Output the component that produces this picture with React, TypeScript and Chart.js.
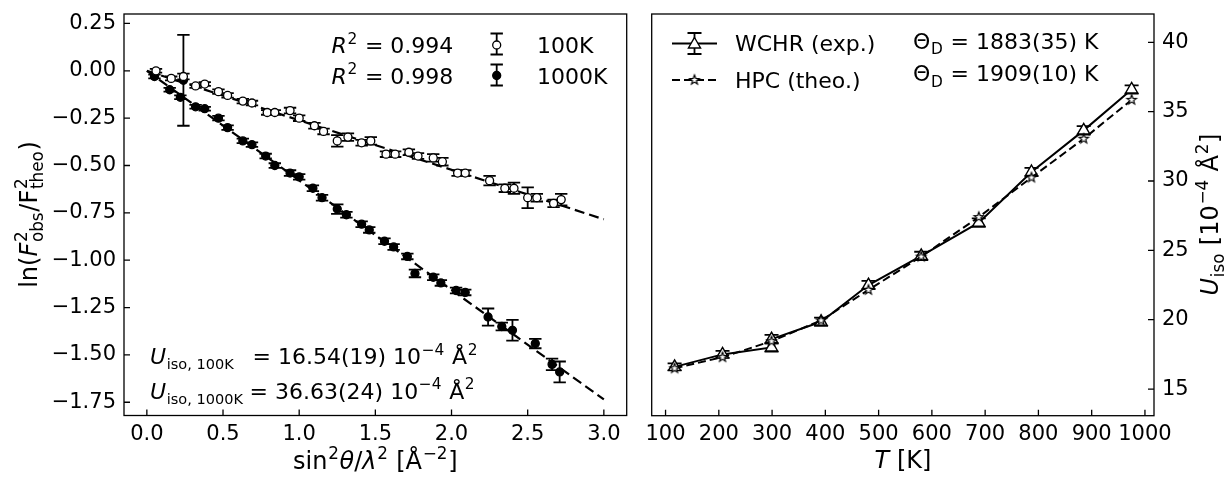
import React, { useEffect, useRef } from 'react';
import { Chart, registerables } from 'chart.js';
Chart.register(...registerables);

const FF = "'DejaVu Sans', 'Liberation Sans', sans-serif";
const FS_T = 21; // tick labels
const FS = 22; // annotations / legend
const FS_L = 24; // axis titles

// ---------- Left panel data ----------
const s100 = [0.06, 0.16, 0.24, 0.32, 0.38, 0.47, 0.53, 0.63, 0.69, 0.79, 0.84, 0.94, 1.00, 1.10, 1.16, 1.25, 1.32, 1.41, 1.47, 1.57, 1.63, 1.72, 1.78, 1.88, 1.94, 2.04, 2.09, 2.25, 2.35, 2.41, 2.50, 2.56, 2.67, 2.72];
const ln100 = [0.00, -0.04, -0.03, -0.08, -0.07, -0.11, -0.13, -0.16, -0.17, -0.22, -0.22, -0.21, -0.25, -0.29, -0.32, -0.37, -0.35, -0.38, -0.37, -0.44, -0.44, -0.43, -0.45, -0.46, -0.48, -0.54, -0.54, -0.58, -0.62, -0.62, -0.67, -0.67, -0.70, -0.68];
const err100 = [0.01, 0.01, 0.015, 0.01, 0.01, 0.012, 0.012, 0.012, 0.012, 0.012, 0.012, 0.015, 0.015, 0.015, 0.015, 0.03, 0.02, 0.015, 0.02, 0.015, 0.015, 0.015, 0.015, 0.02, 0.02, 0.015, 0.015, 0.025, 0.02, 0.03, 0.055, 0.02, 0.02, 0.03];

const s1000 = [0.05, 0.15, 0.22, 0.24, 0.32, 0.38, 0.47, 0.53, 0.63, 0.69, 0.78, 0.84, 0.94, 1.00, 1.09, 1.15, 1.25, 1.31, 1.41, 1.46, 1.56, 1.62, 1.71, 1.76, 1.88, 1.93, 2.03, 2.09, 2.24, 2.33, 2.40, 2.55, 2.66, 2.71];
const ln1000 = [-0.03, -0.10, -0.14, -0.05, -0.19, -0.20, -0.25, -0.30, -0.37, -0.39, -0.45, -0.50, -0.54, -0.56, -0.62, -0.67, -0.73, -0.76, -0.81, -0.84, -0.90, -0.93, -0.98, -1.07, -1.09, -1.12, -1.16, -1.17, -1.30, -1.35, -1.37, -1.44, -1.55, -1.59];
const err1000 = [0.01, 0.01, 0.01, 0.24, 0.01, 0.01, 0.012, 0.012, 0.012, 0.012, 0.012, 0.012, 0.015, 0.015, 0.015, 0.015, 0.025, 0.015, 0.015, 0.015, 0.015, 0.015, 0.015, 0.02, 0.015, 0.015, 0.015, 0.015, 0.045, 0.02, 0.055, 0.025, 0.03, 0.055];

const fitS = [0.0, 3.0];
const fit100 = [0.0, -0.784];
const fit1000 = [0.0, -1.735];

const leftXTicks = [0.0, 0.5, 1.0, 1.5, 2.0, 2.5, 3.0];
const leftYTicks = [0.25, 0.0, -0.25, -0.5, -0.75, -1.0, -1.25, -1.5, -1.75];

// ---------- Right panel data ----------
const tWCHR = [117, 207, 299, 299, 392, 481, 580, 688, 787, 885, 975];
const uWCHR = [16.6, 17.5, 18.0, 18.6, 19.85, 22.5, 24.6, 27.0, 30.65, 33.65, 36.6];
const eWCHR = [0.25, 0.25, 0.3, 0.3, 0.3, 0.3, 0.3, 0.3, 0.3, 0.3, 0.3];
const tHPC = [117, 207, 299, 392, 481, 580, 688, 787, 885, 975];
const uHPC = [16.5, 17.3, 18.45, 19.95, 22.15, 24.55, 27.4, 30.25, 33.05, 35.85];

const rightXTicks = [100, 200, 300, 400, 500, 600, 700, 800, 900, 1000];
const rightYTicks = [15, 20, 25, 30, 35, 40];

// ---------- rich text helpers ----------
type Seg = { t?: string; it?: boolean; sup?: string; sub?: string; sc?: number };

function fontOf(size: number, it?: boolean) {
  return `${it ? 'italic ' : ''}${size}px ${FF}`;
}

function richWidth(ctx: CanvasRenderingContext2D, segs: Seg[], size: number) {
  let w = 0;
  for (const s of segs) {
    if (s.t !== undefined) {
      ctx.font = fontOf(size, s.it);
      w += ctx.measureText(s.t).width;
    } else {
      ctx.font = fontOf(size * (s.sc || 0.7));
      const a = s.sup ? ctx.measureText(s.sup).width : 0;
      const b = s.sub ? ctx.measureText(s.sub).width : 0;
      w += Math.max(a, b) + size * 0.06;
    }
  }
  return w;
}

function drawRich(ctx: CanvasRenderingContext2D, segs: Seg[], x: number, y: number, size: number, align: 'left' | 'center' | 'right' = 'left') {
  const w = richWidth(ctx, segs, size);
  let cx = align === 'left' ? x : align === 'center' ? x - w / 2 : x - w;
  ctx.save();
  ctx.fillStyle = '#000';
  ctx.textBaseline = 'alphabetic';
  ctx.textAlign = 'left';
  for (const s of segs) {
    if (s.t !== undefined) {
      ctx.font = fontOf(size, s.it);
      ctx.fillText(s.t, cx, y);
      cx += ctx.measureText(s.t).width;
    } else {
      ctx.font = fontOf(size * (s.sc || 0.7));
      let a = 0, b = 0;
      if (s.sup) { ctx.fillText(s.sup, cx + size * 0.03, y - size * 0.42); a = ctx.measureText(s.sup).width; }
      if (s.sub) { ctx.fillText(s.sub, cx + size * 0.03, y + size * 0.24); b = ctx.measureText(s.sub).width; }
      cx += Math.max(a, b) + size * 0.06;
    }
  }
  ctx.restore();
  return (align === 'left' ? x : align === 'center' ? x - w / 2 : x - w) + w;
}

const fmtMinus = (v: number, d: number) => (v < 0 ? '\u2212' : '') + Math.abs(v).toFixed(d);

// ---------- plugins ----------
const errorBarPlugin = {
  id: 'errbars',
  beforeDatasetsDraw(chart: any) {
    const ctx = chart.ctx;
    chart.data.datasets.forEach((ds: any) => {
      if (!ds.errorBars) return;
      const xs = chart.scales.x, ys = chart.scales.y;
      ctx.save();
      ctx.strokeStyle = '#000';
      ctx.lineWidth = ds.errLineWidth || 1.8;
      ds.data.forEach((p: any, j: number) => {
        const e = ds.errorBars[j];
        const x = xs.getPixelForValue(p.x);
        const y1 = ys.getPixelForValue(p.y + e);
        const y2 = ys.getPixelForValue(p.y - e);
        const cw = ds.capHalf || 6;
        ctx.beginPath();
        ctx.moveTo(x, y1); ctx.lineTo(x, y2);
        ctx.moveTo(x - cw, y1); ctx.lineTo(x + cw, y1);
        ctx.moveTo(x - cw, y2); ctx.lineTo(x + cw, y2);
        ctx.stroke();
      });
      ctx.restore();
    });
  },
};

function frameAndTicks(chart: any, yOnRight: boolean) {
  const ctx = chart.ctx;
  const a = chart.chartArea;
  ctx.save();
  ctx.strokeStyle = '#000';
  ctx.lineWidth = 1.3;
  ctx.strokeRect(a.left, a.top, a.right - a.left, a.bottom - a.top);
  const TL = 6;
  ctx.beginPath();
  chart.scales.x.ticks.forEach((t: any) => {
    const px = chart.scales.x.getPixelForValue(t.value);
    ctx.moveTo(px, a.bottom); ctx.lineTo(px, a.bottom - TL);
  });
  chart.scales.y.ticks.forEach((t: any) => {
    const py = chart.scales.y.getPixelForValue(t.value);
    if (yOnRight) { ctx.moveTo(a.right, py); ctx.lineTo(a.right - TL, py); }
    else { ctx.moveTo(a.left, py); ctx.lineTo(a.left + TL, py); }
  });
  ctx.stroke();
  ctx.restore();
}

function errGlyph(ctx: CanvasRenderingContext2D, x: number, y: number, half: number, cap: number) {
  ctx.beginPath();
  ctx.moveTo(x, y - half); ctx.lineTo(x, y + half);
  ctx.moveTo(x - cap, y - half); ctx.lineTo(x + cap, y - half);
  ctx.moveTo(x - cap, y + half); ctx.lineTo(x + cap, y + half);
  ctx.stroke();
}

const leftDecor = {
  id: 'leftDecor',
  afterDraw(chart: any) {
    const ctx = chart.ctx;
    frameAndTicks(chart, false);
    // R^2 texts
    drawRich(ctx, [{ t: 'R', it: true }, { sup: '2' }, { t: ' = 0.994' }], 331.5, 53, FS);
    drawRich(ctx, [{ t: 'R', it: true }, { sup: '2' }, { t: ' = 0.998' }], 331.5, 83.7, FS);
    // legend
    ctx.save();
    ctx.strokeStyle = '#000';
    ctx.lineWidth = 1.8;
    errGlyph(ctx, 496.7, 44, 10.5, 6.2);
    ctx.beginPath(); ctx.arc(496.7, 45, 4, 0, Math.PI * 2); ctx.fillStyle = '#fff'; ctx.fill(); ctx.lineWidth = 1.3; ctx.stroke();
    ctx.lineWidth = 1.8;
    errGlyph(ctx, 496.7, 75, 10.5, 6.2);
    ctx.beginPath(); ctx.arc(496.7, 75.5, 4, 0, Math.PI * 2); ctx.fillStyle = '#000'; ctx.fill(); ctx.lineWidth = 1.3; ctx.stroke();
    ctx.restore();
    drawRich(ctx, [{ t: '100K' }], 537, 53, FS);
    drawRich(ctx, [{ t: '1000K' }], 537, 83.7, FS);
    // U_iso texts
    const e1 = drawRich(ctx, [{ t: 'U', it: true }, { sub: 'iso, 100K', sc: 0.66 }], 150, 364, FS);
    drawRich(ctx, [{ t: '= 16.54(19) 10' }, { sup: '\u22124' }, { t: ' \u00c5' }, { sup: '2' }], Math.max(252.5, e1 + 6), 364, FS);
    const e2 = drawRich(ctx, [{ t: 'U', it: true }, { sub: 'iso, 1000K', sc: 0.66 }], 150, 398.7, FS);
    drawRich(ctx, [{ t: '= 36.63(24) 10' }, { sup: '\u22124' }, { t: ' \u00c5' }, { sup: '2' }], Math.max(248.5, e2 + 6), 398.7, FS);
    // axis titles
    drawRich(ctx, [{ t: 'sin' }, { sup: '2' }, { t: '\u03b8', it: true }, { t: '/' }, { t: '\u03bb', it: true }, { sup: '2' }, { t: ' [\u00c5' }, { sup: '\u22122' }, { t: ']' }], 375.3, 469, FS_L, 'center');
    ctx.save();
    ctx.translate(37, 214.5);
    ctx.rotate(-Math.PI / 2);
    drawRich(ctx, [{ t: 'ln(' }, { t: 'F', it: true }, { sup: '2', sub: 'obs' }, { t: '/F' }, { sup: '2', sub: 'theo' }, { t: ')' }], 0, 0, FS_L, 'center');
    ctx.restore();
  },
};

function makeStar(r: number) {
  const size = Math.ceil(r * 2 + 4);
  const c = document.createElement('canvas');
  c.width = size; c.height = size;
  const g = c.getContext('2d')!;
  const cx = size / 2, cy = size / 2;
  g.beginPath();
  for (let i = 0; i < 10; i++) {
    const rad = i % 2 === 0 ? r : r * 0.42;
    const ang = -Math.PI / 2 + (i * Math.PI) / 5;
    const px = cx + rad * Math.cos(ang), py = cy + rad * Math.sin(ang);
    if (i === 0) g.moveTo(px, py); else g.lineTo(px, py);
  }
  g.closePath();
  g.fillStyle = '#fff'; g.fill();
  g.lineWidth = 1.2; g.strokeStyle = '#000'; g.stroke();
  return c;
}

function drawTriangle(ctx: CanvasRenderingContext2D, x: number, y: number, r: number) {
  ctx.beginPath();
  for (let i = 0; i < 3; i++) {
    const ang = -Math.PI / 2 + (i * 2 * Math.PI) / 3;
    const px = x + r * Math.cos(ang), py = y + r * Math.sin(ang);
    if (i === 0) ctx.moveTo(px, py); else ctx.lineTo(px, py);
  }
  ctx.closePath();
  ctx.fillStyle = '#fff'; ctx.fill();
  ctx.stroke();
}

const rightDecor = {
  id: 'rightDecor',
  afterDraw(chart: any) {
    const ctx = chart.ctx;
    const ox = 640;
    frameAndTicks(chart, true);
    // legend
    ctx.save();
    ctx.strokeStyle = '#000';
    ctx.lineWidth = 2;
    ctx.beginPath(); ctx.moveTo(672 - ox, 43.5); ctx.lineTo(717 - ox, 43.5); ctx.stroke();
    ctx.lineWidth = 1.8;
    errGlyph(ctx, 694.5 - ox, 43.5, 10.5, 7);
    ctx.lineWidth = 1.4;
    drawTriangle(ctx, 694.5 - ox, 44.5, 7);
    ctx.lineWidth = 2;
    ctx.setLineDash([8, 4]);
    ctx.beginPath(); ctx.moveTo(672 - ox, 80); ctx.lineTo(717 - ox, 80); ctx.stroke();
    ctx.setLineDash([]);
    const st = makeStar(5);
    ctx.drawImage(st, 694.5 - ox - st.width / 2, 80 - st.height / 2);
    ctx.restore();
    drawRich(ctx, [{ t: 'WCHR (exp.)' }], 735 - ox, 51, FS);
    drawRich(ctx, [{ t: 'HPC (theo.)' }], 735 - ox, 87.5, FS);
    drawRich(ctx, [{ t: '\u0398' }, { sub: 'D' }, { t: ' = 1883(35) K' }], 913 - ox, 48.7, FS);
    drawRich(ctx, [{ t: '\u0398' }, { sub: 'D' }, { t: ' = 1909(10) K' }], 913 - ox, 81.3, FS);
    drawRich(ctx, [{ t: 'T', it: true }, { t: ' [K]' }], 903 - ox, 468, FS_L, 'center');
    ctx.save();
    ctx.translate(1218 - ox, 214.5);
    ctx.rotate(-Math.PI / 2);
    drawRich(ctx, [{ t: 'U', it: true }, { sub: 'iso' }, { t: ' [10' }, { sup: '\u22124' }, { t: ' \u00c5' }, { sup: '2' }, { t: ']' }], 0, 0, FS_L, 'center');
    ctx.restore();
  },
};

const tickFont = { family: FF, size: FS_T };

export default function App() {
  const lRef = useRef<HTMLCanvasElement>(null);
  const rRef = useRef<HTMLCanvasElement>(null);

  useEffect(() => {
    const left = new Chart(lRef.current!, {
      type: 'scatter',
      data: {
        datasets: [
          { type: 'line', data: fitS.map((x, i) => ({ x, y: fit100[i] })), borderColor: '#000', borderDash: [10, 5], borderWidth: 2.2, pointRadius: 0, order: 3, fill: false } as any,
          { type: 'line', data: fitS.map((x, i) => ({ x, y: fit1000[i] })), borderColor: '#000', borderDash: [10, 5], borderWidth: 2.2, pointRadius: 0, order: 3, fill: false } as any,
          { label: '100K', data: s100.map((x, i) => ({ x, y: ln100[i] })), pointRadius: 4, pointBackgroundColor: '#fff', pointBorderColor: '#000', pointBorderWidth: 1.3, order: 1, errorBars: err100, capHalf: 6.2 } as any,
          { label: '1000K', data: s1000.map((x, i) => ({ x, y: ln1000[i] })), pointRadius: 4, pointBackgroundColor: '#000', pointBorderColor: '#000', pointBorderWidth: 1.3, order: 2, errorBars: err1000, capHalf: 6.2 } as any,
        ],
      },
      options: {
        responsive: false,
        animation: false,
        events: [],
        layout: { padding: { left: 0, top: 14, right: 13.3, bottom: 0 } },
        plugins: { legend: { display: false }, tooltip: { enabled: false } },
        scales: {
          x: {
            type: 'linear', min: -0.15, max: 3.15,
            grid: { display: false, drawTicks: false }, border: { display: false },
            afterBuildTicks: (s: any) => { s.ticks = leftXTicks.map((v) => ({ value: v })); },
            afterFit: (s: any) => { s.height = 61.5; s.paddingLeft = 0; s.paddingRight = 0; },
            ticks: { font: tickFont, color: '#000', padding: 6, maxRotation: 0, autoSkip: false, callback: (v: any) => fmtMinus(Number(v), 1) },
          },
          y: {
            type: 'linear', min: -1.82, max: 0.30,
            grid: { display: false, drawTicks: false }, border: { display: false },
            afterBuildTicks: (s: any) => { s.ticks = leftYTicks.map((v) => ({ value: v })); },
            afterFit: (s: any) => { s.width = 124; s.paddingTop = 0; s.paddingBottom = 0; },
            ticks: { font: tickFont, color: '#000', padding: 8, autoSkip: false, callback: (v: any) => fmtMinus(Number(v), 2) },
          },
        },
      } as any,
      plugins: [errorBarPlugin, leftDecor],
    });

    const right = new Chart(rRef.current!, {
      type: 'line',
      data: {
        datasets: [
          { label: 'WCHR (exp.)', data: tWCHR.map((x, i) => ({ x, y: uWCHR[i] })), borderColor: '#000', borderWidth: 2, pointStyle: 'triangle', pointRadius: 7, pointBackgroundColor: '#fff', pointBorderColor: '#000', pointBorderWidth: 1.4, order: 2, errorBars: eWCHR, capHalf: 7, tension: 0 } as any,
          { label: 'HPC (theo.)', data: tHPC.map((x, i) => ({ x, y: uHPC[i] })), borderColor: '#000', borderWidth: 2, borderDash: [8, 4], pointStyle: makeStar(5), pointRadius: 5, order: 1, tension: 0 } as any,
        ],
      },
      options: {
        responsive: false,
        animation: false,
        events: [],
        layout: { padding: { left: 11.7, top: 14, right: 0, bottom: 0 } },
        plugins: { legend: { display: false }, tooltip: { enabled: false } },
        scales: {
          x: {
            type: 'linear', min: 74, max: 1017,
            grid: { display: false, drawTicks: false }, border: { display: false },
            afterBuildTicks: (s: any) => { s.ticks = rightXTicks.map((v) => ({ value: v })); },
            afterFit: (s: any) => { s.height = 61.3; s.paddingLeft = 0; s.paddingRight = 0; },
            ticks: { font: tickFont, color: '#000', padding: 6, maxRotation: 0, autoSkip: false, callback: (v: any) => String(v) },
          },
          y: {
            type: 'linear', position: 'right', min: 13.08, max: 42.04,
            grid: { display: false, drawTicks: false }, border: { display: false },
            afterBuildTicks: (s: any) => { s.ticks = rightYTicks.map((v) => ({ value: v })); },
            afterFit: (s: any) => { s.width = 71; s.paddingTop = 0; s.paddingBottom = 0; },
            ticks: { font: tickFont, color: '#000', padding: 8, autoSkip: false, callback: (v: any) => String(v) },
          },
        },
      } as any,
      plugins: [errorBarPlugin, rightDecor],
    });

    return () => { left.destroy(); right.destroy(); };
  }, []);

  return (
    <div style={{ position: 'absolute', left: 0, top: 0, width: 1225, height: 477, background: '#fff' }}>
      <canvas ref={lRef} width={640} height={477} style={{ position: 'absolute', left: 0, top: 0, width: 640, height: 477 }} />
      <canvas ref={rRef} width={585} height={477} style={{ position: 'absolute', left: 640, top: 0, width: 585, height: 477 }} />
    </div>
  );
}
